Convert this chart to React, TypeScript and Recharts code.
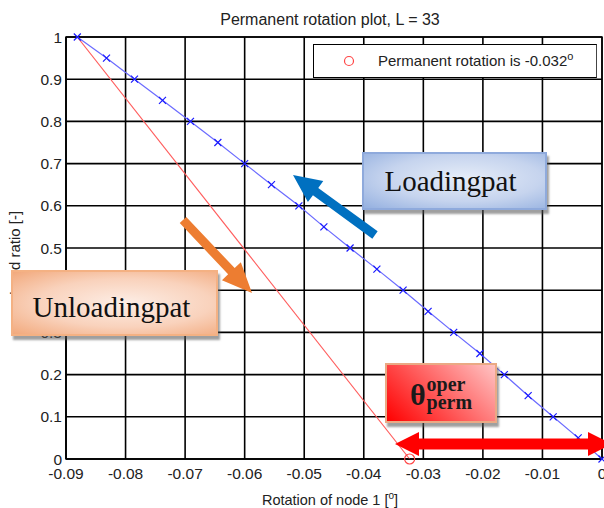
import React from "react";
import {
  CartesianGrid,
  Legend,
  Line,
  LineChart,
  ReferenceArea,
  XAxis,
  YAxis,
} from "recharts";

const loadRatio = [
  1, 0.95, 0.9, 0.85, 0.8, 0.75, 0.7, 0.65, 0.6, 0.55, 0.5, 0.45, 0.4, 0.35,
  0.3, 0.25, 0.2, 0.15, 0.1, 0.05, 0,
];
const loadingRotation = [
  -0.0881, -0.0832, -0.0785, -0.0738, -0.0691, -0.0645, -0.06, -0.0555,
  -0.0509, -0.0467, -0.0423, -0.0378, -0.0334, -0.0292, -0.0249, -0.0205,
  -0.0164, -0.0124, -0.0082, -0.004, 0,
];
const unloadRatio = [1, 0];
const unloadRotation = [-0.0881, -0.0323];

const xTicks = [-0.09, -0.08, -0.07, -0.06, -0.05, -0.04, -0.03, -0.02, -0.01, 0];
const yTicks = [0, 0.1, 0.2, 0.3, 0.4, 0.5, 0.6, 0.7, 0.8, 0.9, 1];

const loadingData = loadRatio.map((r, i) => ({ rot: loadingRotation[i], ratio: r }));
const unloadData = unloadRatio.map((r, i) => ({ rot: unloadRotation[i], ratio: r }));

const FONT = "'Liberation Sans', Arial, sans-serif";
const SERIF = "'Liberation Serif', 'Times New Roman', serif";

const XMark = (props: any) => {
  const { cx, cy, index } = props;
  if (cx == null || cy == null) return <g key={index} />;
  const s = 3.5;
  return (
    <path
      key={index}
      d={`M${cx - s},${cy - s}L${cx + s},${cy + s}M${cx - s},${cy + s}L${cx + s},${cy - s}`}
      stroke="#1a1aff"
      strokeWidth={1.2}
      fill="none"
    />
  );
};

const EndCircle = (props: any) => {
  const { cx, cy, index } = props;
  if (index !== unloadRatio.length - 1 || cx == null) return <g key={index} />;
  return <circle key={index} cx={cx} cy={cy} r={5} stroke="#ff4444" strokeWidth={1.2} fill="none" />;
};

function arrow(x1: number, y1: number, x2: number, y2: number, shaft: number, headW: number, headL: number) {
  const len = Math.hypot(x2 - x1, y2 - y1);
  const ux = (x2 - x1) / len;
  const uy = (y2 - y1) / len;
  const nx = -uy;
  const ny = ux;
  const bx = x2 - ux * headL;
  const by = y2 - uy * headL;
  const p = (x: number, y: number, k: number) => `${x + nx * k},${y + ny * k}`;
  return [
    p(x1, y1, shaft / 2),
    p(bx, by, shaft / 2),
    p(bx, by, headW / 2),
    `${x2},${y2}`,
    p(bx, by, -headW / 2),
    p(bx, by, -shaft / 2),
    p(x1, y1, -shaft / 2),
  ].join(" ");
}

function doubleArrow(x1: number, x2: number, y: number, shaft: number, headW: number, headL: number) {
  const s = shaft / 2;
  const h = headW / 2;
  return [
    `${x1},${y}`,
    `${x1 + headL},${y - h}`,
    `${x1 + headL},${y - s}`,
    `${x2 - headL},${y - s}`,
    `${x2 - headL},${y - h}`,
    `${x2},${y}`,
    `${x2 - headL},${y + h}`,
    `${x2 - headL},${y + s}`,
    `${x1 + headL},${y + s}`,
    `${x1 + headL},${y + h}`,
  ].join(" ");
}

const LegendBox = () => (
  <div
    style={{
      width: 282,
      height: 32,
      border: "1px solid #000",
      borderRightColor: "#444",
      background: "#fff",
      position: "relative",
      fontFamily: FONT,
      fontSize: 15,
      color: "#222",
    }}
  >
    <svg width={20} height={20} style={{ position: "absolute", left: 25, top: 6 }}>
      <circle cx={10} cy={10} r={4.5} stroke="#ff4444" strokeWidth={1.2} fill="none" />
    </svg>
    <span style={{ position: "absolute", left: 64, top: 7, whiteSpace: "nowrap" }}>
      Permanent rotation is -0.032<sup style={{ fontSize: 11, verticalAlign: "6px", lineHeight: 0 }}>o</sup>
    </span>
  </div>
);

const boxBase: React.CSSProperties = {
  position: "absolute",
  boxSizing: "border-box",
  display: "flex",
  alignItems: "center",
  justifyContent: "center",
  fontFamily: SERIF,
  color: "#111",
  boxShadow: "2px 4px 2px rgba(80,80,80,0.55)",
};

export default function App() {
  return (
    <div style={{ position: "relative", width: 604, height: 508, background: "#fff" }}>
      <style>{`body{margin:0}`}</style>
      <LineChart width={604} height={508} margin={{ top: 37, right: 2, bottom: 19, left: 0 }}>
        <CartesianGrid stroke="#000" strokeWidth={1.6} />
        <XAxis
          type="number"
          dataKey="rot"
          domain={[-0.09, 0]}
          ticks={xTicks}
          height={30}
          tickSize={0}
          tickMargin={9}
          axisLine={{ stroke: "#000" }}
          tick={{ fill: "#222", fontSize: 15.5, fontFamily: FONT }}
          interval={0}
        />
        <YAxis
          type="number"
          domain={[0, 1]}
          ticks={yTicks}
          width={66}
          tickSize={0}
          tickMargin={4}
          axisLine={{ stroke: "#000" }}
          tick={{ fill: "#222", fontSize: 15.5, fontFamily: FONT }}
          interval={0}
        />
        <ReferenceArea x1={-0.09} x2={0} y1={0} y2={1} fill="none" stroke="#000" strokeWidth={1.4} />
        <Line
          data={unloadData}
          dataKey="ratio"
          stroke="#ff5c5c"
          strokeWidth={1.2}
          dot={EndCircle}
          isAnimationActive={false}
        />
        <Line
          data={loadingData}
          dataKey="ratio"
          stroke="#6b6bff"
          strokeWidth={1.2}
          dot={XMark}
          isAnimationActive={false}
        />
        <Legend
          layout="vertical"
          align="center"
          verticalAlign="middle"
          content={() => <LegendBox />}
          wrapperStyle={{ top: 44, left: 313, width: 284, height: 34 }}
        />
      </LineChart>

      <svg
        width={604}
        height={508}
        style={{ position: "absolute", left: 0, top: 0, pointerEvents: "none" }}
      >
        <text x={330} y={25} textAnchor="middle" fontFamily={FONT} fontSize={16} fill="#222">
          Permanent rotation plot, L = 33
        </text>
        <text x={330} y={505} textAnchor="middle" fontFamily={FONT} fontSize={14.5} fill="#222">
          Rotation of node 1 [
          <tspan fontSize={10} dy={-6}>o</tspan>
          <tspan dy={6}>]</tspan>
        </text>
        <text
          x={0}
          y={0}
          transform="translate(20,253) rotate(-90)"
          textAnchor="middle"
          fontFamily={FONT}
          fontSize={15}
          fill="#222"
        >
          Load ratio [-]
        </text>
        <polygon points={arrow(375, 235, 293, 175, 9, 26, 28)} fill="#0070c0" />
        <polygon points={arrow(183, 220, 252, 293, 9, 26, 30)} fill="#ed7d31" />
        <polygon points={doubleArrow(395, 612, 444, 11, 24, 24)} fill="#ff0000" />
      </svg>

      <div
        style={{
          ...boxBase,
          left: 362,
          top: 152,
          width: 185,
          height: 58,
          border: "2px solid #8faadc",
          background: "radial-gradient(ellipse at 55% 45%, #e6edf8 0%, #c6d4ee 55%, #94b0e0 100%)",
          fontSize: 29,
          paddingRight: 8,
        }}
      >
        Loadingpat
      </div>

      <div
        style={{
          ...boxBase,
          left: 11,
          top: 270,
          width: 207,
          height: 66,
          border: "2px solid #f4b183",
          background: "radial-gradient(ellipse at 55% 50%, #fdeee6 0%, #f9d2bc 55%, #f2a97c 100%)",
          fontSize: 29,
          paddingRight: 6,
          paddingTop: 8,
        }}
      >
        Unloadingpat
      </div>

      <div
        style={{
          ...boxBase,
          left: 385,
          top: 363,
          width: 112,
          height: 60,
          border: "2px solid #eaa984",
          background: "linear-gradient(45deg, #ff0000 0%, #ff4d4d 40%, #ffc4c4 100%)",
          fontWeight: "bold",
          color: "#1a1a1a",
        }}
      >
        <span style={{ fontSize: 30, lineHeight: "30px", marginTop: 4 }}>θ</span>
        <span
          style={{
            display: "inline-flex",
            flexDirection: "column",
            fontSize: 20,
            lineHeight: "18px",
            marginLeft: 1,
          }}
        >
          <span>oper</span>
          <span>perm</span>
        </span>
      </div>
    </div>
  );
}
